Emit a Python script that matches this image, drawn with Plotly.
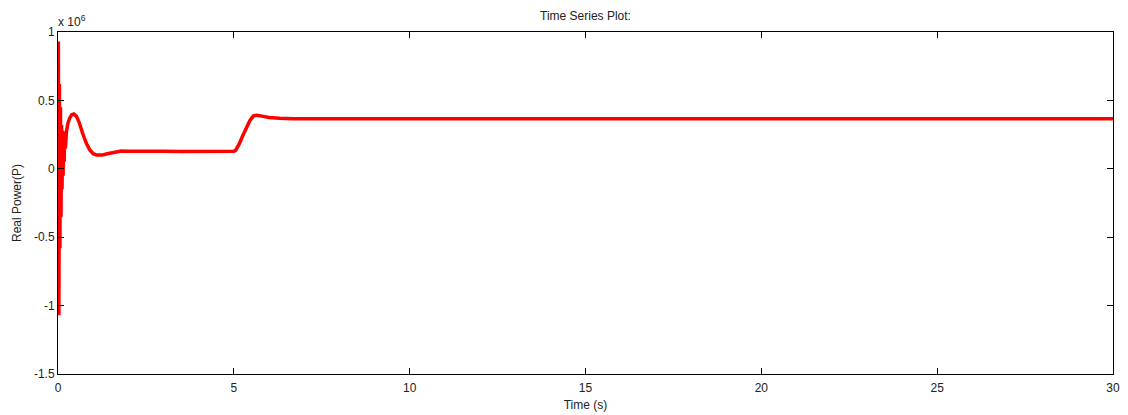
import plotly.graph_objects as go

# Time (s)
time_s = [0.0, 0.01, 0.025, 0.04, 0.055, 0.07, 0.085, 0.10, 0.115, 0.13, 0.145, 0.16,
          0.175, 0.19, 0.21, 0.24, 0.28, 0.33, 0.39, 0.45, 0.52, 0.60, 0.70, 0.80,
          0.90, 1.00, 1.10, 1.25, 1.40, 1.60, 1.80, 2.00, 2.50, 3.00, 3.50, 4.00,
          4.50, 5.00, 5.05, 5.15, 5.25, 5.35, 5.45, 5.55, 5.65, 5.80, 6.00, 6.30,
          6.70, 7.5, 9.0, 11.0, 13.0, 15.0, 17.0, 19.0, 21.0, 23.0, 25.0, 27.0,
          29.0, 30.0]

# Real power, in units of 1e6
power_e6 = [0.0, 0.93, -1.07, 0.62, -0.58, 0.45, -0.35, 0.32, -0.15, 0.28, -0.05, 0.27,
            0.05, 0.26, 0.15, 0.27, 0.33, 0.37, 0.395, 0.40, 0.385, 0.34, 0.26, 0.19,
            0.14, 0.11, 0.10, 0.10, 0.11, 0.12, 0.13, 0.128, 0.125, 0.128, 0.126, 0.127,
            0.126, 0.128, 0.135, 0.18, 0.24, 0.30, 0.35, 0.385, 0.392, 0.385, 0.375, 0.37,
            0.366, 0.366, 0.365, 0.366, 0.365, 0.366, 0.365, 0.366, 0.365, 0.366, 0.365, 0.366,
            0.365, 0.365]

x_ticks = [0, 5, 10, 15, 20, 25, 30]
y_ticks = [-1.5, -1, -0.5, 0, 0.5, 1]
y_tick_labels = ["-1.5", "-1", "-0.5", "0", "0.5", "1"]

font_family = "Liberation Sans, Arial, sans-serif"
text_color = "#222222"

fig = go.Figure()
fig.add_trace(go.Scatter(
    x=time_s, y=power_e6, mode="lines",
    line=dict(color="#ff0000", width=3.5),
    showlegend=False, hoverinfo="skip",
))

axis_common = dict(
    showgrid=False, zeroline=False, automargin=False,
    showline=True, linecolor="#000000", linewidth=1, mirror="ticks",
    ticks="inside", ticklen=6, tickcolor="#000000", tickwidth=1,
    tickfont=dict(family=font_family, size=12, color=text_color),
)

fig.update_layout(
    width=1120, height=407,
    margin=dict(l=50, r=15, t=24, b=41),
    paper_bgcolor="#ffffff", plot_bgcolor="#ffffff",
    title=dict(text="Time Series Plot:", x=0.5, xanchor="center",
               xref="paper", yref="container", y=0.98, yanchor="middle",
               font=dict(family=font_family, size=12, color=text_color)),
    xaxis=dict(range=[0, 30], tickvals=x_ticks, ticklabelstandoff=3,
               title=dict(text="Time (s)", standoff=6,
                          font=dict(family=font_family, size=12, color=text_color)),
               **axis_common),
    yaxis=dict(range=[-1.5, 1], tickvals=y_ticks, ticktext=y_tick_labels,
               title=dict(text="Real Power(P)", standoff=9,
                          font=dict(family=font_family, size=12, color=text_color)),
               **axis_common),
    annotations=[dict(
        text="x 10<sup>6</sup>", xref="paper", yref="paper", x=0, y=1,
        xanchor="left", yanchor="bottom", yshift=1, xshift=-2, showarrow=False,
        font=dict(family=font_family, size=12, color=text_color),
    )],
)

fig.write_html("out.html")
